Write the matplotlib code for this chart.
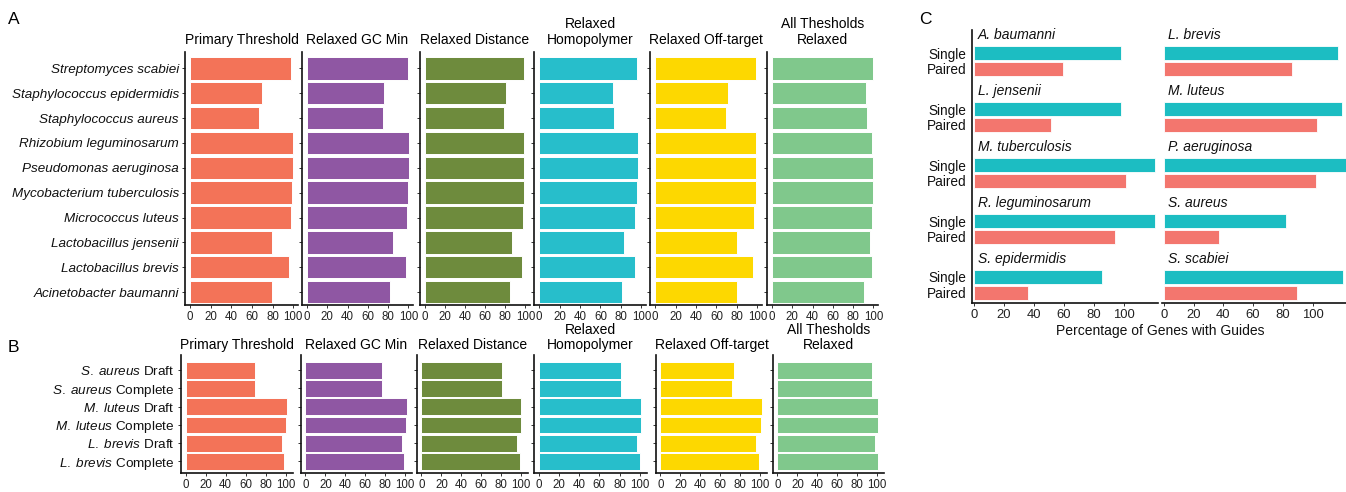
import matplotlib
matplotlib.use('Agg')
import matplotlib.pyplot as plt
import numpy as np

plt.rcParams['font.family'] = ['Liberation Sans', 'DejaVu Sans']
plt.rcParams['mathtext.fontset'] = 'custom'
plt.rcParams['mathtext.it'] = 'Liberation Sans:italic'
plt.rcParams['mathtext.rm'] = 'Liberation Sans'

# ---------------- data ----------------
species_A = ['Streptomyces scabiei', 'Staphylococcus epidermidis', 'Staphylococcus aureus',
             'Rhizobium leguminosarum', 'Pseudomonas aeruginosa', 'Mycobacterium tuberculosis',
             'Micrococcus luteus', 'Lactobacillus jensenii', 'Lactobacillus brevis',
             'Acinetobacter baumanni']
conditions = ['Primary Threshold', 'Relaxed GC Min', 'Relaxed Distance',
              'Relaxed\nHomopolymer', 'Relaxed Off-target', 'All Thesholds\nRelaxed']
primary_A = [97.5, 69.4, 67.0, 99.4, 99.4, 98.4, 97.5, 79.4, 95.5, 79.4]
gcmin_A = [99.7, 76.0, 75.0, 100.5, 100.5, 99.7, 98.7, 84.3, 97.7, 82.3]
distance_A = [99.0, 80.6, 78.7, 99.0, 99.0, 99.0, 97.7, 86.6, 97.0, 84.6]
homopoly_A = [95.5, 72.3, 73.3, 96.5, 96.5, 95.5, 94.2, 83.2, 94.2, 81.3]
offtarget_A = [98.7, 71.7, 69.4, 98.7, 98.7, 98.7, 96.7, 80.4, 95.8, 80.4]
allrelaxed_A = [100.0, 92.8, 94.1, 99.0, 100.0, 100.0, 99.0, 97.0, 99.0, 90.2]

species_B = ['S. aureus', 'S. aureus', 'M. luteus', 'M. luteus', 'L. brevis', 'L. brevis']
assembly_B = ['Draft', 'Complete', 'Draft', 'Complete', 'Draft', 'Complete']
primary_B = [69.5, 69.5, 101.0, 100.0, 96.0, 98.0]
gcmin_B = [76.7, 77.0, 101.7, 100.7, 96.7, 99.3]
distance_B = [80.6, 80.6, 100.0, 100.0, 96.1, 99.0]
homopoly_B = [81.2, 81.2, 100.7, 100.7, 96.7, 99.7]
offtarget_B = [73.6, 72.3, 101.6, 100.6, 96.3, 99.3]
allrelaxed_B = [95.0, 95.4, 101.0, 101.0, 98.0, 101.0]

guide_types = ['Single', 'Paired']
species_C_left = ['A. baumanni', 'L. jensenii', 'M. tuberculosis', 'R. leguminosarum', 'S. epidermidis']
single_C_left = [97.8, 97.8, 120.4, 120.7, 85.3]
paired_C_left = [59.6, 51.1, 101.3, 94.0, 36.0]
species_C_right = ['L. brevis', 'M. luteus', 'P. aeruginosa', 'S. aureus', 'S. scabiei']
single_C_right = [116.9, 119.6, 123.0, 82.4, 120.7]
paired_C_right = [86.2, 103.3, 102.4, 36.9, 89.8]
ticks = [0, 20, 40, 60, 80, 100]

# ---------------- style ----------------
cond_colors = ['#F37358', '#8F57A3', '#6E8B3D', '#27BECB', '#FDD800', '#80C88C']
single_color = '#1CBDC2'
paired_color = '#F3766E'

W, H = 1346, 492
fig = plt.figure(figsize=(W / 100, H / 100), dpi=100)


def px_axes(l, t, r, b):
    return fig.add_axes([l / W, 1 - b / H, (r - l) / W, (b - t) / H])


def style(ax, labelsize=8.3):
    for s in ['top', 'right']:
        ax.spines[s].set_visible(False)
    for s in ['left', 'bottom']:
        ax.spines[s].set_linewidth(1.2)
        ax.spines[s].set_color('#111111')
    ax.tick_params(axis='both', length=2.5, width=0.7, labelsize=labelsize, pad=2,
                   color='#333333', labelcolor='#222222')


# ---------------- panel A ----------------
A_vals = [primary_A, gcmin_A, distance_A, homopoly_A, offtarget_A, allrelaxed_A]
A_l = [185, 302, 420, 534, 650, 767]
A_r = [298, 413, 530, 646, 762, 878]
yA = np.arange(len(species_A))
for i, vals in enumerate(A_vals):
    ax = px_axes(A_l[i], 52, A_r[i], 305)
    ax.barh(yA, vals, height=0.9, color=cond_colors[i], edgecolor='white', linewidth=0.7)
    ax.set_xlim(-5, 104.5)
    ax.set_ylim(len(species_A) - 0.48, -0.66)
    ax.set_xticks(ticks)
    ax.set_yticks(yA)
    style(ax)
    if i == 0:
        ax.set_yticklabels(species_A, fontstyle='italic', fontsize=9.7, color='#111111')
    else:
        ax.set_yticklabels([])
    ax.set_title(conditions[i], fontsize=10, pad=6, linespacing=1.15)

# ---------------- panel B ----------------
B_vals = [primary_B, gcmin_B, distance_B, homopoly_B, offtarget_B, allrelaxed_B]
B_l = [181, 301, 417, 534, 656, 773]
B_r = [293, 412, 528, 647, 767, 884]
yB = np.arange(len(species_B))
B_labels = [r'$\it{' + s.replace(' ', r'\;') + '}$ ' + a
            for s, a in zip(species_B, assembly_B)]
for i, vals in enumerate(B_vals):
    ax = px_axes(B_l[i], 355, B_r[i], 473)
    ax.barh(yB, vals, height=0.92, color=cond_colors[i], edgecolor='white', linewidth=0.7)
    ax.set_xlim(-4.5, 107)
    ax.set_ylim(len(species_B) - 0.37, -0.83)
    ax.set_xticks(ticks)
    ax.set_yticks(yB)
    style(ax)
    if i == 0:
        ax.set_yticklabels(B_labels, fontsize=9.7, color='#111111')
    else:
        ax.set_yticklabels([])
    ax.set_title(conditions[i], fontsize=10, pad=4, linespacing=1.15)

# ---------------- panel C ----------------
rows = np.arange(len(species_C_left))
y_single = rows + 0.413
y_paired = rows + 0.694
y_label = rows + 0.091
C_specs = [(972, 1158, species_C_left, single_C_left, paired_C_left),
           (1162, 1346, species_C_right, single_C_right, paired_C_right)]
for j, (l, r, sp, sv, pv) in enumerate(C_specs):
    ax = px_axes(l, 30, r, 303)
    ax.barh(y_single, sv, height=0.25, color=single_color, edgecolor='white', linewidth=0.6)
    ax.barh(y_paired, pv, height=0.25, color=paired_color, edgecolor='white', linewidth=0.6)
    for k, name in enumerate(sp):
        ax.text(2.5, y_label[k], name, fontstyle='italic', fontsize=10, va='center',
                ha='left', color='#111111')
    ax.set_xlim(-1.3, 122.5)
    ax.set_ylim(len(rows) - 0.122, 0)
    ax.set_xticks(ticks)
    style(ax, labelsize=9.4)
    if j == 0:
        yt = np.ravel(np.column_stack([y_single, y_paired]))
        ax.set_yticks(yt)
        ax.set_yticklabels(guide_types * len(rows), fontsize=9.8, color='#111111')
        ax.tick_params(axis='y', length=0, pad=4)
    else:
        ax.spines['left'].set_visible(False)
        ax.set_yticks([])

fig.text(1160 / W, 1 - 331 / H, 'Percentage of Genes with Guides', fontsize=10,
         ha='center', va='center', color='#111111')

# panel letters
fig.text(14 / W, 1 - 19 / H, 'A', fontsize=12.5, ha='center', va='center')
fig.text(13 / W, 1 - 348 / H, 'B', fontsize=12.5, ha='center', va='center')
fig.text(925 / W, 1 - 19 / H, 'C', fontsize=12.5, ha='center', va='center')

fig.savefig('out.png', dpi=100)
